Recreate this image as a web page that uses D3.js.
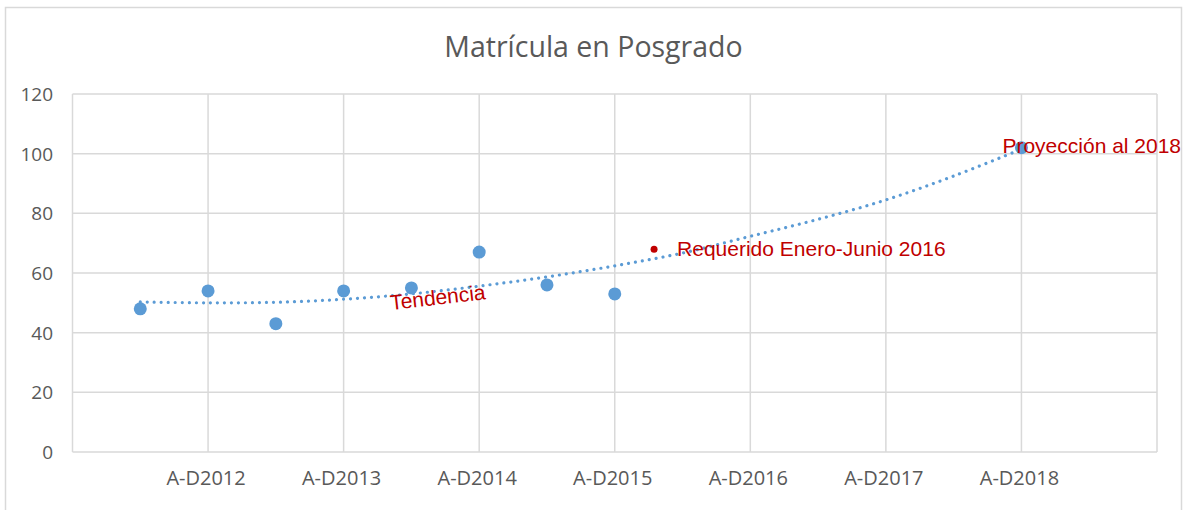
<!DOCTYPE html>
<html>
<head>
<meta charset="utf-8">
<script src="https://cdn.jsdelivr.net/npm/d3@7"></script>
<style>
  body { margin: 0; background: #fff; }
  svg text { font-family: "Open Sans", sans-serif; }
  .tick-label { fill: #595959; font-size: 19px; }
  .cat-label { fill: #595959; font-size: 20px; }
  .title { fill: #595959; font-size: 28.5px; }
  .note { fill: #C00000; font-family: "Liberation Sans", Arial, sans-serif !important; font-size: 21px; }
</style>
</head>
<body>
<div id="chart"></div>
<script>
// categories on the x axis (positions 1..7)
const categories = ["A-D2012", "A-D2013", "A-D2014", "A-D2015", "A-D2016", "A-D2017", "A-D2018"];
const yTicks = [0, 20, 40, 60, 80, 100, 120];

// enrolment points (x position, value)
const matriculaX = [0.5, 1, 1.5, 2, 2.5, 3, 3.5, 4];
const matriculaY = [48, 54, 43, 54, 55, 67, 56, 53];

// required point and projection
const requerido = { x: 4.29, y: 68, label: "Requerido Enero-Junio 2016" };
const proyeccion = { x: 7, y: 102, label: "Proyección al 2018" };

// trend line
const trendX = [0.5, 1, 1.5, 2, 2.5, 3, 3.5, 4, 4.5, 5, 5.5, 6, 6.5, 7];
const trendY = [50.3, 50, 50.2, 51.2, 53, 55.6, 58.7, 62.4, 66.7, 72.3, 78, 84.5, 92.5, 101.5];

const W = 1185, H = 510;
const margin = { top: 94, right: 28, bottom: 58, left: 72.5 };

const svg = d3.select("#chart").append("svg")
  .attr("width", W)
  .attr("height", H);

// outer chart frame
svg.append("path")
  .attr("d", `M5.5,${H + 5}V7.5H1181.5V${H + 5}`)
  .attr("fill", "none")
  .attr("stroke", "#D9D9D9")
  .attr("stroke-width", 1.5);

svg.append("text")
  .attr("class", "title")
  .attr("x", 593.5)
  .attr("y", 56.5)
  .attr("text-anchor", "middle")
  .text("Matrícula en Posgrado");

const x = d3.scaleLinear().domain([0, 8]).range([margin.left, W - margin.right]);
const y = d3.scaleLinear().domain([0, 120]).range([H - margin.bottom, margin.top]);

const grid = svg.append("g").attr("class", "grid");

grid.selectAll(".hline")
  .data(yTicks)
  .enter()
  .append("line")
  .attr("x1", x(0))
  .attr("x2", x(8))
  .attr("y1", d => y(d))
  .attr("y2", d => y(d))
  .attr("stroke", "#D9D9D9")
  .attr("stroke-width", 1.5);

grid.selectAll(".vline")
  .data(d3.range(0, 9))
  .enter()
  .append("line")
  .attr("x1", d => x(d))
  .attr("x2", d => x(d))
  .attr("y1", y(0))
  .attr("y2", y(120))
  .attr("stroke", "#D9D9D9")
  .attr("stroke-width", 1.5);

// y tick labels
svg.append("g")
  .selectAll("text")
  .data(yTicks)
  .enter()
  .append("text")
  .attr("class", "tick-label")
  .attr("x", 53)
  .attr("y", d => y(d) + 7)
  .attr("text-anchor", "end")
  .text(d => d);

// x category labels
svg.append("g")
  .selectAll("text")
  .data(categories)
  .enter()
  .append("text")
  .attr("class", "cat-label")
  .attr("x", (d, i) => x(i + 1) - 2)
  .attr("y", 485)
  .attr("text-anchor", "middle")
  .text(d => d);

// trend line (dotted)
const trendData = trendX.map((d, i) => [d, trendY[i]]);
svg.append("path")
  .datum(trendData)
  .attr("fill", "none")
  .attr("stroke", "#5B9BD5")
  .attr("stroke-width", 3.2)
  .attr("stroke-linecap", "round")
  .attr("stroke-dasharray", "0.01 7")
  .attr("d", d3.line()
    .x(d => x(d[0]))
    .y(d => y(d[1]))
    .curve(d3.curveCatmullRom));

// data points
const points = matriculaX.map((d, i) => ({ x: d, y: matriculaY[i] }));
points.push(proyeccion);

svg.append("g")
  .selectAll("circle")
  .data(points)
  .enter()
  .append("circle")
  .attr("cx", d => x(d.x))
  .attr("cy", d => y(d.y))
  .attr("r", 6.5)
  .attr("fill", "#5B9BD5");

svg.append("circle")
  .attr("cx", x(requerido.x))
  .attr("cy", y(requerido.y))
  .attr("r", 3.5)
  .attr("fill", "#C00000");

// annotations
svg.append("text")
  .attr("class", "note")
  .attr("x", x(requerido.x) + 23)
  .attr("y", y(requerido.y) + 7)
  .text(requerido.label);

svg.append("text")
  .attr("class", "note")
  .attr("x", x(proyeccion.x) - 19)
  .attr("y", y(proyeccion.y) + 5)
  .text(proyeccion.label);

svg.append("text")
  .attr("class", "note")
  .attr("transform", "translate(391,310) rotate(-6.5)")
  .text("Tendencia");
</script>
</body>
</html>
